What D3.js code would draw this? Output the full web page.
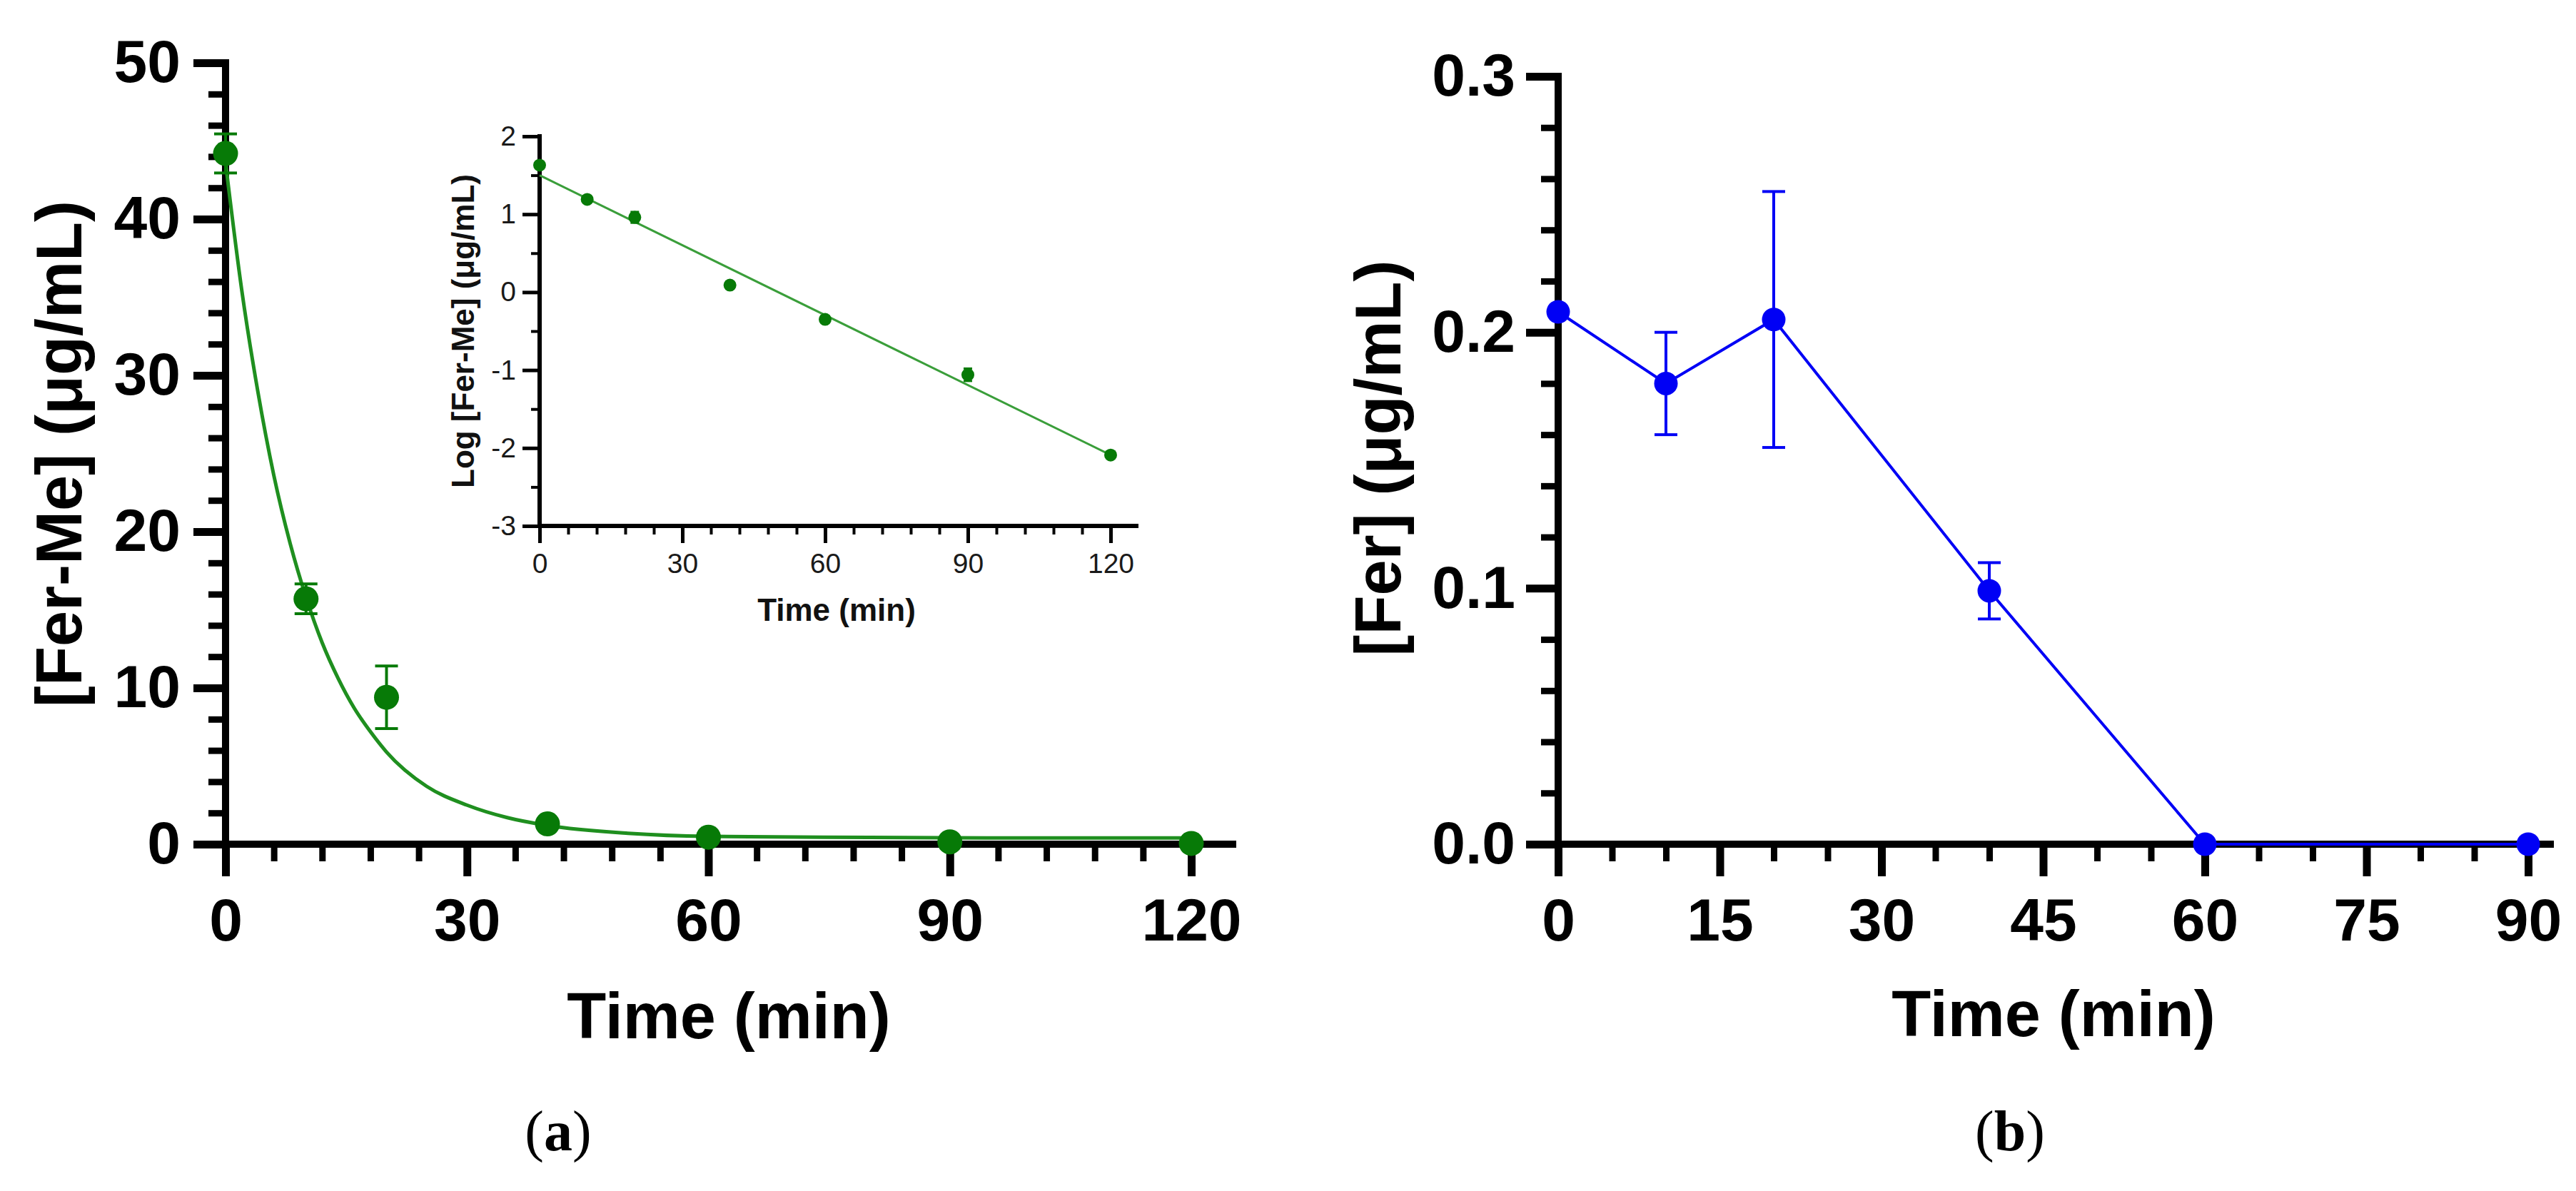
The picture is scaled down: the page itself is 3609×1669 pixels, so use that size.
<!DOCTYPE html>
<html>
<head>
<meta charset="utf-8">
<script src="https://cdn.jsdelivr.net/npm/d3@7"></script>
<style>
  body { margin: 0; background: #fff; }
  svg { display: block; }
</style>
</head>
<body>
<div id="app"></div>
<script>
// panel (a): Fer-Me concentration vs time
const timeA = [0, 10, 20, 40, 60, 90, 120]
const ferMeMean = [44.2, 15.7, 9.4, 1.3, 0.45, 0.15, 0.05]
const ferMeErr = [1.25, 0.95, 2.0, 0, 0, 0, 0]
// fitted decay curve
const fitTime = [0, 2, 4, 6, 8, 10, 12, 14, 16, 18, 20, 25, 30, 35, 40, 50, 60, 80, 100, 120]
const fitValue = [43.6, 35.5, 29.0, 23.6, 19.3, 15.8, 12.9, 10.6, 8.7, 7.2, 5.9, 3.7, 2.5, 1.7, 1.2, 0.7, 0.5, 0.43, 0.4, 0.4]

// inset: log concentration
const logTime = [0, 10, 20, 40, 60, 90, 120]
const logMean = [1.63, 1.19, 0.96, 0.09, -0.35, -1.06, -2.09]
const logErr = [0, 0, 0.07, 0, 0, 0.08, 0]
const logFitTime = [0, 120]
const logFitValue = [1.5, -2.09]

// panel (b): Fer concentration vs time
const timeB = [0, 10, 20, 40, 60, 90]
const ferMean = [0.208, 0.18, 0.205, 0.099, 0, 0]
const ferErr = [0, 0.02, 0.05, 0.011, 0, 0]

// tick labels
const ticksAx = [0, 30, 60, 90, 120]
const ticksAy = [0, 10, 20, 30, 40, 50]
const ticksIx = [0, 30, 60, 90, 120]
const ticksIy = [-3, -2, -1, 0, 1, 2]
const ticksBx = [0, 15, 30, 45, 60, 75, 90]
const ticksBy = [0, 0.1, 0.2, 0.3]

const W = 3609, H = 1669
const FONT = "'Liberation Sans', Arial, Helvetica, sans-serif"
const GREEN = '#077a07'
const GREEN_FIT = '#1f8f1f'
const GREEN_LOG = '#3a9e3a'
const BLUE = '#0000f5'

const svg = d3.select('#app').append('svg').attr('width', W).attr('height', H)

// draws a GraphPad-like axis pair with major / minor ticks
function drawAxes(o) {
	const g = svg.append('g')
	const [x0] = o.x.range()
	const [y0] = o.y.range()

	// minor x ticks
	g.append('g')
		.attr('transform', `translate(0,${y0})`)
		.call(d3.axisBottom(o.x).tickValues(o.xMinor).tickSize(o.minorLen).tickFormat(''))
		.call((a) => a.select('.domain').remove())
		.selectAll('line').attr('stroke', '#000').attr('stroke-width', o.minorW)

	// major x ticks
	const gx = g.append('g')
		.attr('transform', `translate(0,${y0})`)
		.call(d3.axisBottom(o.x).tickValues(o.xMajor).tickSize(o.majorLen).tickPadding(o.xPad).tickFormat(o.xFmt || ((d) => d)))
		.call((a) => a.select('.domain').remove())
	gx.selectAll('line').attr('stroke', '#000').attr('stroke-width', o.majorW)
	gx.selectAll('text')
		.attr('font-family', FONT)
		.attr('font-size', o.tickFont)
		.attr('font-weight', o.tickWeight)
		.attr('fill', o.tickColor)

	// minor y ticks
	g.append('g')
		.attr('transform', `translate(${x0},0)`)
		.call(d3.axisLeft(o.y).tickValues(o.yMinor).tickSize(o.minorLen).tickFormat(''))
		.call((a) => a.select('.domain').remove())
		.selectAll('line').attr('stroke', '#000').attr('stroke-width', o.minorW)

	// major y ticks
	const gy = g.append('g')
		.attr('transform', `translate(${x0},0)`)
		.call(d3.axisLeft(o.y).tickValues(o.yMajor).tickSize(o.majorLen).tickPadding(o.yPad).tickFormat(o.yFmt || ((d) => d)))
		.call((a) => a.select('.domain').remove())
	gy.selectAll('line').attr('stroke', '#000').attr('stroke-width', o.majorW)
	gy.selectAll('text')
		.attr('font-family', FONT)
		.attr('font-size', o.tickFont)
		.attr('font-weight', o.tickWeight)
		.attr('fill', o.tickColor)

	// axis lines
	g.append('line')
		.attr('x1', x0).attr('x2', o.xEnd)
		.attr('y1', y0).attr('y2', y0)
		.attr('stroke', '#000').attr('stroke-width', o.axisW)
	g.append('line')
		.attr('x1', x0).attr('x2', x0)
		.attr('y1', o.y.range()[1]).attr('y2', y0)
		.attr('stroke', '#000').attr('stroke-width', o.axisW)
		.attr('stroke-linecap', 'square')
}

function minorTicks(lo, hi, step, major) {
	return d3.range(lo, hi + step / 2, step)
		.map((d) => +d.toFixed(4))
		.filter((d) => !major.some((m) => Math.abs(m - d) < 1e-6))
}

function drawPoints(x, y, xs, ys, errs, r, capW, errW, color) {
	const g = svg.append('g')
	const pts = xs.map((t, i) => ({ t, v: ys[i], e: errs[i] }))
	const withErr = pts.filter((d) => d.e > 0)
	g.selectAll('line.err').data(withErr).enter().append('line')
		.attr('x1', (d) => x(d.t)).attr('x2', (d) => x(d.t))
		.attr('y1', (d) => y(d.v - d.e)).attr('y2', (d) => y(d.v + d.e))
		.attr('stroke', color).attr('stroke-width', errW)
	;['top', 'bot'].forEach((side) => {
		g.selectAll('line.cap-' + side).data(withErr).enter().append('line')
			.attr('x1', (d) => x(d.t) - capW / 2).attr('x2', (d) => x(d.t) + capW / 2)
			.attr('y1', (d) => y(side === 'top' ? d.v + d.e : d.v - d.e))
			.attr('y2', (d) => y(side === 'top' ? d.v + d.e : d.v - d.e))
			.attr('stroke', color).attr('stroke-width', errW)
	})
	g.selectAll('circle').data(pts).enter().append('circle')
		.attr('cx', (d) => x(d.t)).attr('cy', (d) => y(d.v))
		.attr('r', r).attr('fill', color)
}

function addText(str, x, y, size, weight, rotate, color) {
	const t = svg.append('text')
		.attr('font-family', FONT)
		.attr('font-size', size)
		.attr('font-weight', weight)
		.attr('fill', color || '#000')
		.attr('text-anchor', 'middle')
		.text(str)
	if (rotate) t.attr('transform', `translate(${x},${y}) rotate(-90)`)
	else t.attr('x', x).attr('y', y)
	return t
}

// ---------- panel (a) ----------
const xA = d3.scaleLinear().domain([0, 120]).range([316, 1669])
const yA = d3.scaleLinear().domain([0, 50]).range([1183, 88])

drawAxes({
	x: xA, y: yA, xEnd: 1732,
	xMajor: ticksAx, xMinor: minorTicks(0, 120, 6, ticksAx),
	yMajor: ticksAy, yMinor: minorTicks(0, 50, 2, ticksAy),
	majorLen: 45, minorLen: 24, majorW: 11, minorW: 9, axisW: 10,
	xPad: 30, yPad: 18, tickFont: 84, tickWeight: 'bold', tickColor: '#000',
})

svg.append('path')
	.datum(fitTime.map((t, i) => [t, fitValue[i]]))
	.attr('d', d3.line().x((d) => xA(d[0])).y((d) => yA(d[1])).curve(d3.curveMonotoneX))
	.attr('fill', 'none').attr('stroke', GREEN_FIT).attr('stroke-width', 5)

drawPoints(xA, yA, timeA, ferMeMean, ferMeErr, 17.5, 32, 4, GREEN)

addText('[Fer-Me] (μg/mL)', 114, 636, 90, 'bold', true)
addText('Time (min)', 1021, 1455, 90, 'bold', false)

// ---------- inset ----------
const xI = d3.scaleLinear().domain([0, 120]).range([756, 1556])
const yI = d3.scaleLinear().domain([-3, 2]).range([737, 191])

drawAxes({
	x: xI, y: yI, xEnd: 1595,
	xMajor: ticksIx, xMinor: minorTicks(0, 120, 6, ticksIx),
	yMajor: ticksIy, yMinor: minorTicks(-3, 2, 0.5, ticksIy),
	majorLen: 24, minorLen: 12, majorW: 5, minorW: 4, axisW: 6,
	xPad: 14, yPad: 9, tickFont: 39, tickWeight: 'normal', tickColor: '#1a1a1a',
	yFmt: (d) => String(d),
})

svg.append('path')
	.datum(logFitTime.map((t, i) => [t, logFitValue[i]]))
	.attr('d', d3.line().x((d) => xI(d[0])).y((d) => yI(d[1])))
	.attr('fill', 'none').attr('stroke', GREEN_LOG).attr('stroke-width', 3)

drawPoints(xI, yI, logTime, logMean, logErr, 9, 12, 3, GREEN)

addText('Log [Fer-Me] (μg/mL)', 664, 464, 44, 'bold', true, '#111')
addText('Time (min)', 1172, 870, 44, 'bold', false, '#111')

// ---------- panel (b) ----------
const xB = d3.scaleLinear().domain([0, 90]).range([2183, 3542])
const yB = d3.scaleLinear().domain([0, 0.3]).range([1183, 107])

drawAxes({
	x: xB, y: yB, xEnd: 3578,
	xMajor: ticksBx, xMinor: minorTicks(0, 90, 5, ticksBx),
	yMajor: ticksBy, yMinor: minorTicks(0, 0.3, 0.02, ticksBy),
	majorLen: 45, minorLen: 24, majorW: 11, minorW: 9, axisW: 10,
	xPad: 30, yPad: 15, tickFont: 84, tickWeight: 'bold', tickColor: '#000',
	yFmt: d3.format('.1f'),
})

svg.append('path')
	.datum(timeB.map((t, i) => [t, ferMean[i]]))
	.attr('d', d3.line().x((d) => xB(d[0])).y((d) => yB(d[1])))
	.attr('fill', 'none').attr('stroke', BLUE).attr('stroke-width', 4)

drawPoints(xB, yB, timeB, ferMean, ferErr, 16.5, 32, 4, BLUE)

addText('[Fer] (μg/mL)', 1962, 642, 90, 'bold', true)
addText('Time (min)', 2877, 1452, 90, 'bold', false)

// ---------- panel letters ----------
function panelLetter(letter, x, y) {
	const t = svg.append('text')
		.attr('x', x).attr('y', y)
		.attr('font-family', "'Liberation Serif', 'Times New Roman', serif")
		.attr('font-size', 80)
		.attr('text-anchor', 'middle')
	t.append('tspan').text('(')
	t.append('tspan').attr('font-weight', 'bold').text(letter)
	t.append('tspan').text(')')
}
panelLetter('a', 782, 1612)
panelLetter('b', 2816, 1612)
</script>
</body>
</html>
